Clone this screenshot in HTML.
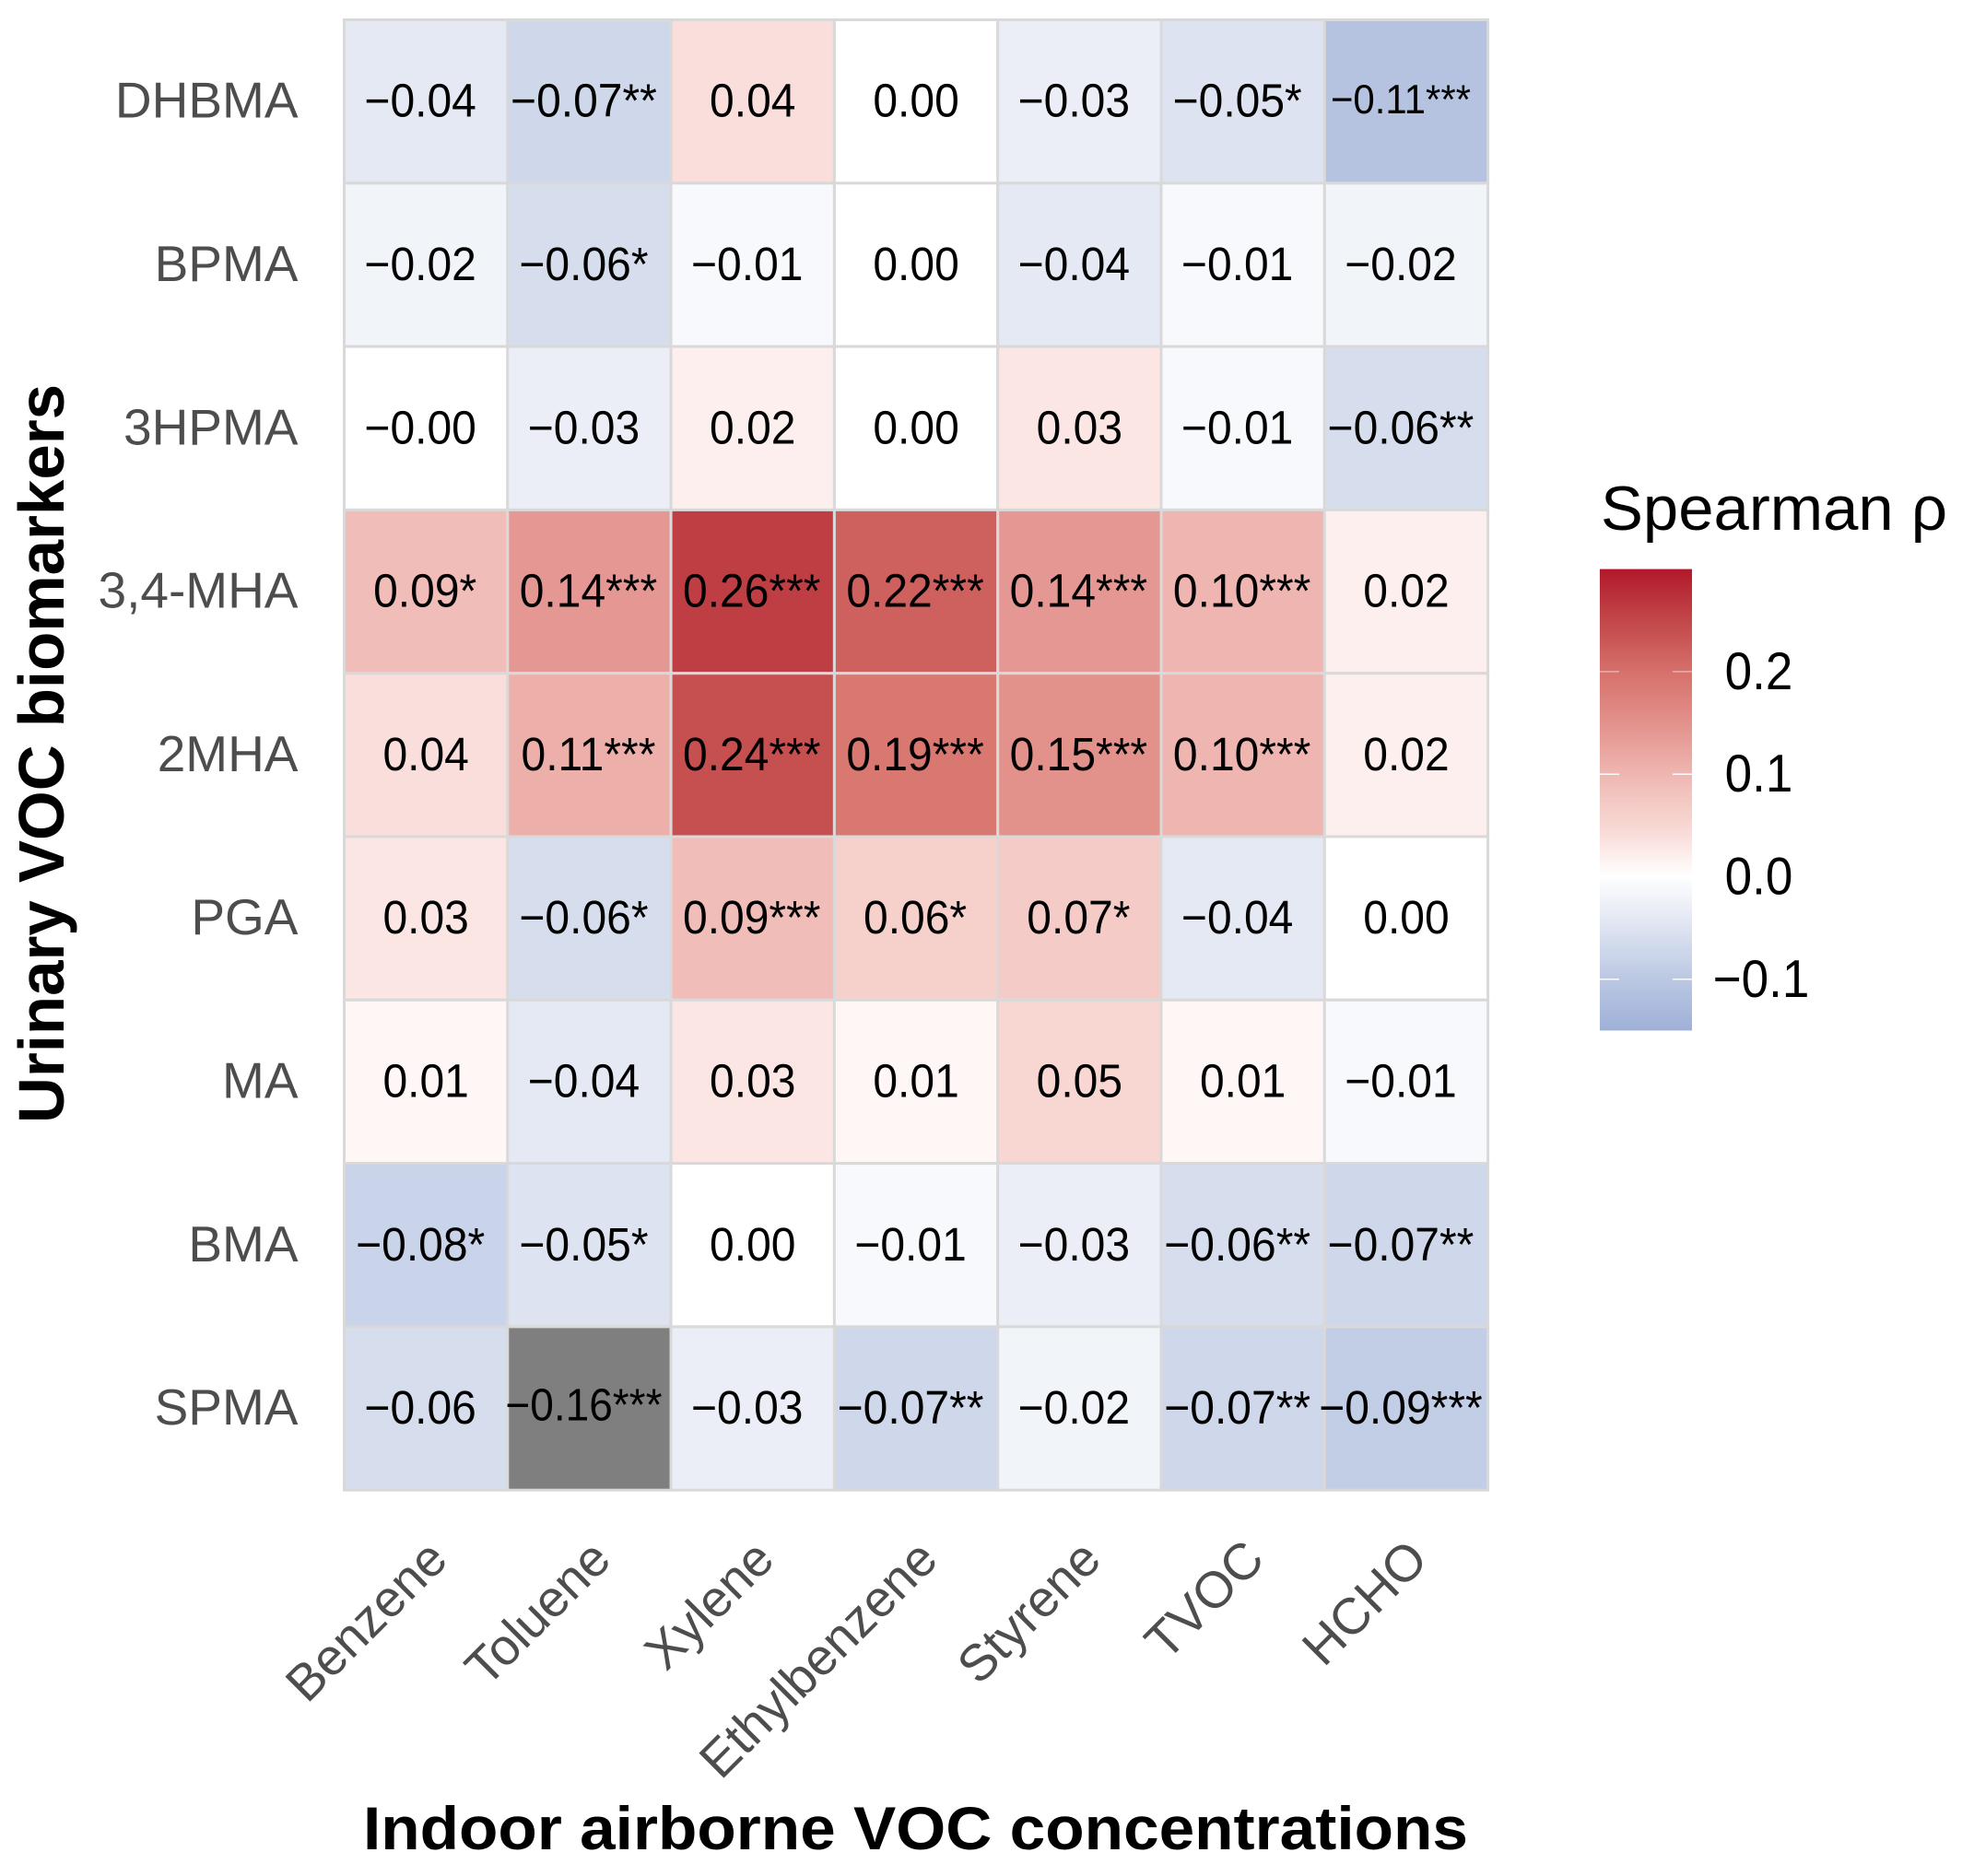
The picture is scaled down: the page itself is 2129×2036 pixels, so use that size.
<!DOCTYPE html>
<html lang="en">
<head>
<meta charset="utf-8">
<title>Spearman correlation heatmap</title>
<style>
html,body{margin:0;padding:0;background:#fff;}
svg{display:block;font-family:"Liberation Sans",Arial,sans-serif;}
</style>
</head>
<body>
<svg id="chart" width="2129" height="2036" viewBox="0 0 2129 2036" xmlns="http://www.w3.org/2000/svg">
<rect x="0" y="0" width="2129" height="2036" fill="#ffffff"/>
<defs><linearGradient id="legend-gradient" x1="0" y1="0" x2="0" y2="1"></linearGradient></defs>
<g id="cells"></g>
<g id="cell-labels"></g>
<g id="y-labels"></g>
<g id="x-labels"></g>
<text transform="translate(69,1219) rotate(-90)" font-size="70" font-weight="700" fill="#000" textLength="802" lengthAdjust="spacingAndGlyphs">Urinary VOC biomarkers</text>
<text x="394" y="2007" font-size="66" font-weight="700" fill="#000" textLength="1199" lengthAdjust="spacingAndGlyphs">Indoor airborne VOC concentrations</text>
<g id="legend">
<text x="1737" y="575" font-size="68" fill="#000" textLength="376" lengthAdjust="spacingAndGlyphs">Spearman ρ</text>
<rect id="legend-bar" fill="url(#legend-gradient)"/>
</g>
</svg>
<script>
const rowNames = ["DHBMA","BPMA","3HPMA","3,4-MHA","2MHA","PGA","MA","BMA","SPMA"];
const colNames = ["Benzene","Toluene","Xylene","Ethylbenzene","Styrene","TVOC","HCHO"];
const rhoDHBMA = [-0.04,-0.07,0.04,0,-0.03,-0.05,-0.11];
const rhoBPMA = [-0.02,-0.06,-0.01,0,-0.04,-0.01,-0.02];
const rho3HPMA = [-0,-0.03,0.02,0,0.03,-0.01,-0.06];
const rho34MHA = [0.09,0.14,0.26,0.22,0.14,0.10,0.02];
const rho2MHA = [0.04,0.11,0.24,0.19,0.15,0.10,0.02];
const rhoPGA = [0.03,-0.06,0.09,0.06,0.07,-0.04,0];
const rhoMA = [0.01,-0.04,0.03,0.01,0.05,0.01,-0.01];
const rhoBMA = [-0.08,-0.05,0,-0.01,-0.03,-0.06,-0.07];
const rhoSPMA = [-0.06,-0.16,-0.03,-0.07,-0.02,-0.07,-0.09];
const rhoValues = [rhoDHBMA,rhoBPMA,rho3HPMA,rho34MHA,rho2MHA,rhoPGA,rhoMA,rhoBMA,rhoSPMA];
const stars = [
  ["","**","","","","*","***"],
  ["","*","","","","",""],
  ["","","","","","","**"],
  ["*","***","***","***","***","***",""],
  ["","***","***","***","***","***",""],
  ["","*","***","*","*","",""],
  ["","","","","","",""],
  ["*","*","","","","**","**"],
  ["","***","","**","","**","***"]
];
const legendTicks = [0.2,0.1,0.0,-0.1];
const legendLimits = [-0.15,0.3];

const NS = "http://www.w3.org/2000/svg";
const gridLeft = 373.5, gridTop = 21.5, cellW = 177.3, cellH = 177.3;
const xScale = i => gridLeft + i * cellW;
const yScale = j => gridTop + j * cellH;
const legendZero = 951.5, legendUnit = 1113;
const legendY = v => legendZero - v * legendUnit;
const colorKnots = [
  [-0.15,[159,176,216]],[-0.10,[187,200,227]],[-0.05,[221,227,241]],[0,[255,255,255]],
  [0.05,[248,214,210]],[0.07,[244,203,198]],[0.10,[239,182,177]],[0.15,[227,145,139]],
  [0.20,[214,112,107]],[0.25,[194,71,73]],[0.30,[178,24,43]]
];
function fillColor(v){
  if (v < legendLimits[0] || v > legendLimits[1]) return "#7f7f7f";
  for (let k = 1; k < colorKnots.length; k++){
    const a = colorKnots[k-1], b = colorKnots[k];
    if (v <= b[0]){
      const t = (v - a[0]) / (b[0] - a[0]);
      const c = a[1].map((x,n) => Math.round(x + (b[1][n] - x) * t));
      return "rgb(" + c.join(",") + ")";
    }
  }
  return "#b2182b";
}
function make(tag, attrs, parent, text){
  const el = document.createElementNS(NS, tag);
  for (const key in attrs) el.setAttribute(key, attrs[key]);
  if (text !== undefined) el.textContent = text;
  parent.appendChild(el);
  return el;
}
function formatRho(v){
  const neg = v < 0 || Object.is(v, -0);
  return (neg ? "\u2212" : "") + Math.abs(v).toFixed(2);
}
const cellsG = document.getElementById("cells");
const labelsG = document.getElementById("cell-labels");
const yG = document.getElementById("y-labels");
const xG = document.getElementById("x-labels");
rowNames.forEach((rowName, j) => {
  const yl = make("text", {x: 323.5, y: yScale(j) + cellH/2 + 17.5, "text-anchor":"end", "font-size":55, fill:"#4d4d4d"}, yG, rowName);
  
  
  colNames.forEach((colName, i) => {
    const v = rhoValues[j][i];
    const r = make("rect", {x:xScale(i), y:yScale(j), width:cellW, height:cellH, fill:fillColor(v), stroke:"#d9d9d9", "stroke-width":3}, cellsG);
    
    
    const neg = v < 0 || Object.is(v, -0);
    const shrink = v <= -0.15 ? 46 : (v <= -0.10 ? 42 : 48);
    const cx = xScale(i) + cellW/2 + (neg ? -6 : (stars[j][i] ? -1 : 0));
    const cy = yScale(j) + cellH/2 + (shrink < 48 ? 13 : 16.5);
    const t = make("text", {transform:"translate(" + cx + "," + cy + ") scale(1,1.06)", "text-anchor":"middle", "font-size":shrink, fill:"#000"}, labelsG, formatRho(v) + stars[j][i]);
    
    
  });
});
colNames.forEach((colName, i) => {
  const ax = xScale(i) + cellW/2 + 26, ay = 1695;
  const t = make("text", {transform:"translate(" + ax + "," + ay + ") rotate(-45)", "text-anchor":"end", "font-size":55.5, fill:"#4d4d4d"}, xG, colName);
  
  
});
// legend
const barTop = legendY(legendLimits[1]), barBottom = legendY(legendLimits[0]);
const bar = document.getElementById("legend-bar");
bar.setAttribute("x", 1736);
bar.setAttribute("y", barTop);
bar.setAttribute("width", 100);
bar.setAttribute("height", barBottom - barTop);
const grad = document.getElementById("legend-gradient");
const gradSteps = 45;
for (let s = 0; s <= gradSteps; s++){
  const val = legendLimits[1] - (legendLimits[1] - legendLimits[0]) * s / gradSteps;
  make("stop", {offset: s / gradSteps, "stop-color": fillColor(val)}, grad);
}
const legendG = document.getElementById("legend");
legendTicks.forEach(v => {
  const y = legendY(v);
  const t1 = make("line", {x1:1736, x2:1757, y1:y, y2:y, stroke:"#fff", "stroke-width":1.5, "stroke-opacity":v === 0.2 ? 0.45 : 0.95}, legendG);
  
  
  const t2 = make("line", {x1:1815, x2:1836, y1:y, y2:y, stroke:"#fff", "stroke-width":1.5, "stroke-opacity":v === 0.2 ? 0.45 : 0.95}, legendG);
  
  
  const lab = (v < 0 ? "\u2212" : "") + Math.abs(v).toFixed(1);
  const l = make("text", {transform:"translate(" + (v < 0 ? 1911 : 1908.5) + "," + (y + 19) + ") scale(1,1.08)", "text-anchor":"middle", "font-size":53, fill:"#000"}, legendG, lab);
  
  
});
</script>
</body>
</html>
